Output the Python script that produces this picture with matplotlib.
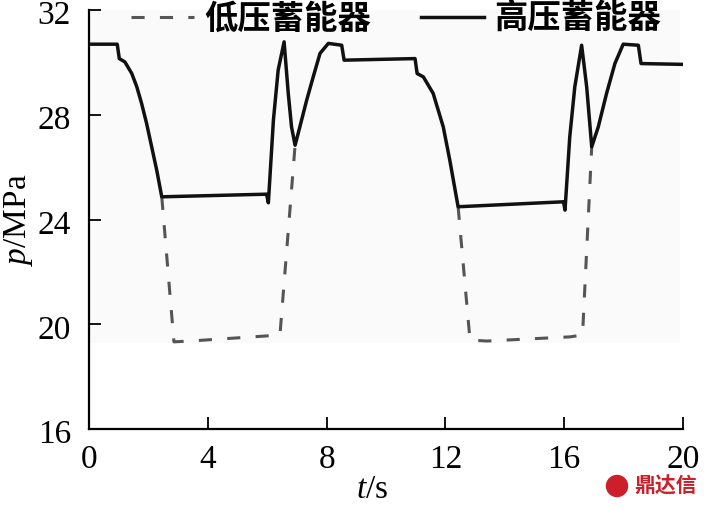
import numpy as np
import matplotlib
matplotlib.use("Agg")
import matplotlib.pyplot as plt
import matplotlib.patches as mpatches
import matplotlib.transforms as mtransforms

# high pressure accumulator (solid)
high_t = [0, 0.95, 1.02, 1.21, 1.44, 1.61, 1.77, 1.94, 2.11, 2.28, 2.45,
          5.98, 6.04, 6.21, 6.37, 6.57, 6.71, 6.82, 6.94, 7.10, 7.33, 7.55, 7.78, 8.06, 8.51, 8.59,
          10.98, 11.05, 11.26, 11.59, 11.93, 12.15, 12.43,
          15.98, 16.03, 16.19, 16.36, 16.59, 16.76, 16.93, 17.15, 17.43, 17.71, 17.99, 18.50, 18.59, 19.96]
high_p = [30.70, 30.70, 30.15, 30.02, 29.58, 29.07, 28.44, 27.67, 26.78, 25.89, 24.87,
          24.97, 24.64, 27.80, 29.71, 30.79, 28.82, 27.54, 26.84, 27.54, 28.56, 29.45, 30.35, 30.73, 30.66, 30.09,
          30.15, 29.58, 29.45, 28.82, 27.54, 26.27, 24.49,
          24.68, 24.36, 27.16, 29.07, 30.66, 29.07, 26.78, 27.54, 28.82, 29.96, 30.70, 30.66, 29.96, 29.93]

# low pressure accumulator (dashed), only where it leaves the high curve
low_t = [2.45, 2.86, 3.40, 6.43, 6.94, np.nan, 12.43, 12.83, 13.39, 16.20, 16.62, 16.93]
low_p = [24.87, 19.33, 19.36, 19.59, 26.84, np.nan, 24.49, 19.40, 19.36, 19.52, 19.59, 26.78]

xticks = [0, 4, 8, 12, 16, 20]
yticks = [16, 20, 24, 28, 32]

plt.rcParams['font.family'] = ['Liberation Serif', 'Noto Sans CJK SC']
plt.rcParams['mathtext.fontset'] = 'custom'
plt.rcParams['mathtext.it'] = 'Liberation Serif:italic'
plt.rcParams['mathtext.rm'] = 'Liberation Serif'

fig = plt.figure(figsize=(7.07, 5.08), dpi=100)
ax = fig.add_axes([0.1259, 0.1555, 0.840, 0.8245])

# faint grey backdrop of the original scan
ax.axhspan(19.3, 32, xmin=0, xmax=0.995, color='#fafafa', zorder=0, lw=0)

ax.plot(low_t, low_p, color='#555555', lw=2.2, dashes=(4.3, 5), label='低压蓄能器', zorder=2)
ax.plot(high_t, high_p, color='#111111', lw=2.5, label='高压蓄能器', zorder=3)

ax.set_xlim(0, 20)
ax.set_ylim(16, 32)
ax.set_xticks(xticks)
ax.set_yticks(yticks)
for s in ['top', 'right']:
    ax.spines[s].set_visible(False)
for s in ['left', 'bottom']:
    ax.spines[s].set_linewidth(1.6)
ax.tick_params(direction='in', length=8.5, width=1.3, labelsize=24)
ax.tick_params(axis='x', pad=11)
ax.tick_params(axis='y', pad=13)

off = mtransforms.ScaledTranslation(0, -0.025, fig.dpi_scale_trans)
for lab in ax.get_yticklabels():
    lab.set_transform(lab.get_transform() + off)

ax.text((372 - 89) / 594, (429 - 490) / 419, r'$t$/s', fontsize=24,
        transform=ax.transAxes, ha='center', va='center')
ax.set_ylabel(r'$p$/MPa', fontsize=24, labelpad=2)

fig.legend(loc='center', bbox_to_anchor=(0.560, 0.963), ncol=2, frameon=False,
           prop={'family': ['Noto Sans CJK SC'], 'weight': 'bold', 'size': 24},
           handlelength=1.9, columnspacing=1.5, handletextpad=0.3)

# watermark
fig.add_artist(mpatches.Ellipse((617 / 707, 1 - 486 / 508), 21 / 707, 21 / 508,
                                color='#cc1f2a', transform=fig.transFigure))
fig.text(0.986, 0.022, '鼎达信', color='#cc1f2a', fontsize=15, fontweight='bold',
         family=['Noto Sans CJK SC'], ha='right', va='bottom')

fig.savefig('out.png', dpi=100)
